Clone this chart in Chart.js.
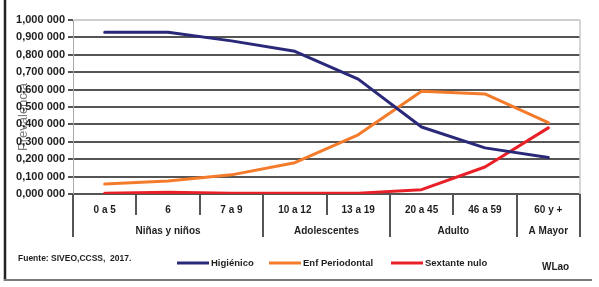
<!DOCTYPE html>
<html>
<head>
<meta charset="utf-8">
<script src="https://cdn.jsdelivr.net/npm/chart.js@4/dist/chart.umd.min.js"></script>
<style>
html,body{margin:0;padding:0;background:#fff;}
canvas{display:block;}
</style>
</head>
<body>
<canvas id="c" width="599" height="287"></canvas>
<script>
const categories = ["0 a 5", "6", "7 a 9", "10 a 12", "13 a 19", "20 a 45", "46 a 59", "60 y +"];
const groupNames = ["Niñas y niños", "Adolescentes", "Adulto", "A Mayor"];
const groupSizes = [3, 2, 2, 1];
const higienico = [0.93, 0.93, 0.88, 0.82, 0.66, 0.385, 0.265, 0.21];
const enfPeriodontal = [0.057, 0.075, 0.11, 0.18, 0.34, 0.59, 0.575, 0.41];
const sextanteNulo = [0.005, 0.01, 0.005, 0.005, 0.005, 0.025, 0.155, 0.38];
const seriesNames = ["Higiénico", "Enf Periodontal", "Sextante nulo"];
const yTickLabels = ["0,000 000","0,100 000","0,200 000","0,300 000","0,400 000","0,500 000","0,600 000","0,700 000","0,800 000","0,900 000","1,000 000"];
const yTitle = "Prevalencia";
const sourceText = "Fuente: SIVEO,CCSS,  2017.";
const authorText = "WLao";

const FONT = "'Liberation Sans', Arial, sans-serif";
const colors = ["#2a2878", "#f47b2a", "#e82128"];

const decor = {
  id: 'decor',
  beforeDraw(chart) {
    const ctx = chart.ctx;
    ctx.save();
    ctx.fillStyle = '#fff';
    ctx.fillRect(0, 0, chart.width, chart.height);
    ctx.translate(23, 117);
    ctx.rotate(-Math.PI / 2);
    ctx.fillStyle = '#7d7d7d';
    ctx.font = "13px " + FONT;
    ctx.textAlign = 'center';
    ctx.textBaseline = 'middle';
    ctx.fillText(yTitle, 0, 0);
    ctx.restore();
  },
  afterDraw(chart) {
    const ctx = chart.ctx;
    const a = chart.chartArea;
    const xs = chart.scales.x;
    const n = categories.length;
    const w = (a.right - a.left) / n;
    ctx.save();
    ctx.strokeStyle = '#c8c8c8';
    ctx.lineWidth = 1.5;
    ctx.beginPath();
    ctx.moveTo(a.right, a.top);
    ctx.lineTo(a.right, a.bottom);
    ctx.stroke();
    const groupBounds = [0];
    let s = 0;
    groupSizes.forEach(g => { s += g; groupBounds.push(s); });
    ctx.strokeStyle = '#555';
    ctx.lineWidth = 2;
    for (let i = 0; i <= n; i++) {
      const x = Math.round(a.left + i * w);
      const long = groupBounds.includes(i);
      ctx.beginPath();
      ctx.moveTo(x, a.bottom);
      ctx.lineTo(x, long ? 237 : 215);
      ctx.stroke();
    }
    ctx.fillStyle = '#1e1e1e';
    ctx.font = "bold 10px " + FONT;
    ctx.textAlign = 'center';
    ctx.textBaseline = 'middle';
    categories.forEach((c, i) => {
      ctx.fillText(c, xs.getPixelForValue(i), 210);
    });
    groupNames.forEach((g, i) => {
      const x0 = a.left + groupBounds[i] * w;
      const x1 = a.left + groupBounds[i + 1] * w;
      ctx.fillText(g, (x0 + x1) / 2, 231);
    });
    const legendX = [177, 269, 391];
    chart.data.datasets.forEach((d, i) => {
      ctx.strokeStyle = d.borderColor;
      ctx.lineWidth = 3;
      ctx.beginPath();
      ctx.moveTo(legendX[i], 263);
      ctx.lineTo(legendX[i] + 32, 263);
      ctx.stroke();
      ctx.fillStyle = '#1e1e1e';
      ctx.font = "bold 9.5px " + FONT;
      ctx.textAlign = 'left';
      ctx.fillText(d.label, legendX[i] + 34, 263);
    });
    ctx.font = "bold 8.5px " + FONT;
    ctx.fillText(sourceText, 18, 259);
    ctx.font = "bold 10px " + FONT;
    ctx.fillText(authorText, 542, 267);
    ctx.strokeStyle = '#222';
    ctx.lineWidth = 2.5;
    ctx.beginPath();
    ctx.moveTo(5, 0);
    ctx.lineTo(5, 281);
    ctx.stroke();
    ctx.strokeStyle = '#7a7a7a';
    ctx.lineWidth = 2;
    ctx.beginPath();
    ctx.moveTo(4, 280);
    ctx.lineTo(592, 280);
    ctx.stroke();
    ctx.restore();
  }
};

new Chart(document.getElementById('c'), {
  type: 'line',
  data: {
    labels: categories,
    datasets: [
      { label: seriesNames[0], data: higienico, borderColor: colors[0], backgroundColor: colors[0] },
      { label: seriesNames[1], data: enfPeriodontal, borderColor: colors[1], backgroundColor: colors[1] },
      { label: seriesNames[2], data: sextanteNulo, borderColor: colors[2], backgroundColor: colors[2] }
    ]
  },
  options: {
    responsive: false,
    devicePixelRatio: 1,
    animation: false,
    layout: { padding: { top: 20, right: 19, left: 0, bottom: 0 } },
    elements: {
      line: { borderWidth: 3, tension: 0, borderCapStyle: 'round', borderJoinStyle: 'round' },
      point: { radius: 0 }
    },
    plugins: { legend: { display: false }, tooltip: { enabled: false } },
    scales: {
      x: {
        type: 'category',
        offset: true,
        grid: { display: false },
        border: { display: false },
        ticks: { display: false },
        afterFit(scale) { scale.height = 93; }
      },
      y: {
        min: 0, max: 1,
        ticks: {
          stepSize: 0.1,
          padding: 3,
          color: '#1e1e1e',
          font: { family: FONT, size: 11, weight: 'bold' },
          callback: (v, i) => yTickLabels[i]
        },
        grid: {
          color: c => (c.tick && c.tick.value >= 0.999) ? '#cfcfcf' : '#555',
          lineWidth: 2,
          tickLength: 5,
          tickColor: '#555'
        },
        border: { display: true, color: '#aaa', width: 1 },
        afterFit(scale) { scale.width = 73; }
      }
    }
  },
  plugins: [decor]
});
</script>
</body>
</html>
